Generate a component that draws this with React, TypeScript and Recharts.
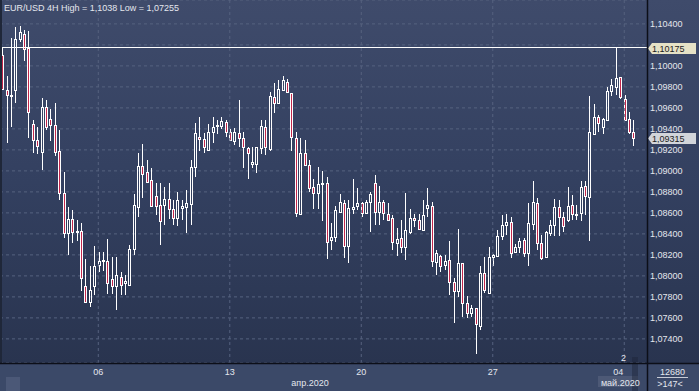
import React from 'react';
import { ComposedChart, Bar, XAxis, YAxis, CartesianGrid, ReferenceLine } from 'recharts';

const title = 'EUR/USD 4H High = 1,1038 Low = 1,07255';

const opens = [
  1.10105, 1.09772, 1.09712, 1.09772, 1.10258, 1.10302, 1.10175, 1.09449, 1.09293, 1.09184,
  1.09607, 1.09496, 1.09440, 1.09191, 1.08788, 1.08408, 1.08541, 1.08427, 1.08423, 1.07908,
  1.07756, 1.07899, 1.08100, 1.08138, 1.08138, 1.07969, 1.07908, 1.07989, 1.07931, 1.07915,
  1.08256, 1.08655, 1.09048, 1.08991, 1.08915, 1.08756, 1.08677, 1.08677, 1.08731, 1.08636,
  1.08550, 1.08645, 1.08655, 1.08686, 1.09036, 1.09321, 1.09302, 1.09200, 1.09375, 1.09426,
  1.09429, 1.09468, 1.09375, 1.09289, 1.09360, 1.09312, 1.09217, 1.09064, 1.09064, 1.09217,
  1.09422, 1.09207, 1.09702, 1.09645, 1.09772, 1.09851, 1.09740, 1.09312, 1.08591, 1.09169,
  1.09058, 1.08851, 1.08788, 1.08874, 1.08883, 1.08338, 1.08375, 1.08613, 1.08693, 1.08280,
  1.08636, 1.08670, 1.08693, 1.08603, 1.08708, 1.08883, 1.08613, 1.08699, 1.08591, 1.08550,
  1.08313, 1.08360, 1.08275, 1.08414, 1.08550, 1.08535, 1.08440, 1.08645, 1.08667, 1.08128,
  1.08185, 1.08106, 1.08154, 1.07946, 1.07860, 1.08122, 1.07740, 1.07651, 1.07693, 1.07527,
  1.08027, 1.07836, 1.08180, 1.08185, 1.08382, 1.08484, 1.08516, 1.08232, 1.08275, 1.08344,
  1.08217, 1.08496, 1.08693, 1.08313, 1.08180, 1.08408, 1.08487, 1.08655, 1.08560, 1.08535,
  1.08677, 1.08581, 1.08598, 1.08858, 1.08750, 1.09353, 1.09512, 1.09422, 1.09480, 1.09756,
  1.09803, 1.09893, 1.09683, 1.09494, 1.09366,
];

const highs = [
  1.10172, 1.09899, 1.10264, 1.10375, 1.10380, 1.10343, 1.10334, 1.09484, 1.09417, 1.09693,
  1.09677, 1.09588, 1.09648, 1.09391, 1.08994, 1.08655, 1.08629, 1.08535, 1.08503, 1.08160,
  1.08090, 1.08287, 1.08229, 1.08226, 1.08351, 1.08176, 1.08176, 1.08033, 1.08011, 1.08297,
  1.08781, 1.09169, 1.09258, 1.09105, 1.09026, 1.08883, 1.08883, 1.08851, 1.08883, 1.08718,
  1.08800, 1.08724, 1.08820, 1.09105, 1.09456, 1.09512, 1.09360, 1.09449, 1.09512, 1.09487,
  1.09512, 1.09487, 1.09398, 1.09407, 1.09677, 1.09375, 1.09232, 1.09226, 1.09232, 1.09487,
  1.09480, 1.09750, 1.09836, 1.09867, 1.09905, 1.09874, 1.09746, 1.09375, 1.09315, 1.09296,
  1.09105, 1.08921, 1.09036, 1.09003, 1.08940, 1.08503, 1.08667, 1.08781, 1.08718, 1.08718,
  1.08921, 1.08836, 1.08708, 1.08718, 1.08803, 1.08962, 1.08858, 1.08718, 1.08693, 1.08581,
  1.08455, 1.08535, 1.08794, 1.08636, 1.08591, 1.08591, 1.08718, 1.08836, 1.08708, 1.08242,
  1.08201, 1.08201, 1.08328, 1.07979, 1.08446, 1.08122, 1.07810, 1.07724, 1.07698, 1.08090,
  1.08180, 1.08275, 1.08211, 1.08433, 1.08581, 1.08591, 1.08565, 1.08306, 1.08360, 1.08360,
  1.08693, 1.08908, 1.08740, 1.08391, 1.08423, 1.08535, 1.08731, 1.08718, 1.08613, 1.08851,
  1.08772, 1.08677, 1.08899, 1.08899, 1.09715, 1.09639, 1.09534, 1.09503, 1.09798, 1.09874,
  1.10175, 1.09893, 1.09724, 1.09556, 1.09480,
];

const lows = [
  1.09772, 1.09264, 1.09422, 1.09645, 1.10232, 1.10051, 1.09312, 1.09169, 1.09160, 1.09010,
  1.09391, 1.09286, 1.09137, 1.08724, 1.08360, 1.08195, 1.08313, 1.08328, 1.07858, 1.07740,
  1.07708, 1.07819, 1.08039, 1.08042, 1.07826, 1.07826, 1.07677, 1.07819, 1.07819, 1.07905,
  1.08201, 1.08565, 1.08740, 1.08883, 1.08660, 1.08581, 1.08297, 1.08487, 1.08541, 1.08487,
  1.08471, 1.08535, 1.08408, 1.08487, 1.08946, 1.09194, 1.09169, 1.09194, 1.09264, 1.09353,
  1.09398, 1.09321, 1.09280, 1.09248, 1.09226, 1.09026, 1.08921, 1.09026, 1.08984, 1.09162,
  1.09153, 1.09194, 1.09550, 1.09639, 1.09756, 1.09740, 1.09194, 1.08560, 1.08581, 1.09053,
  1.08803, 1.08636, 1.08636, 1.08525, 1.08160, 1.08249, 1.08319, 1.08603, 1.08170, 1.08122,
  1.08591, 1.08629, 1.08560, 1.08598, 1.08414, 1.08487, 1.08487, 1.08535, 1.08519, 1.08249,
  1.08185, 1.08217, 1.08147, 1.08400, 1.08465, 1.08433, 1.08433, 1.08560, 1.08084, 1.08011,
  1.08033, 1.08058, 1.07819, 1.07550, 1.07803, 1.07613, 1.07598, 1.07613, 1.07255, 1.07480,
  1.07841, 1.07829, 1.08097, 1.08180, 1.08338, 1.08391, 1.08170, 1.08217, 1.08217, 1.08180,
  1.08090, 1.08440, 1.08242, 1.08154, 1.08170, 1.08382, 1.08382, 1.08382, 1.08414, 1.08509,
  1.08535, 1.08535, 1.08519, 1.08581, 1.08328, 1.09353, 1.09366, 1.09353, 1.09471, 1.09715,
  1.09724, 1.09683, 1.09480, 1.09353, 1.09239,
];

const closes = [
  1.09781, 1.09718, 1.09718, 1.10258, 1.10321, 1.10162, 1.09565, 1.09296, 1.09241, 1.09607,
  1.09417, 1.09433, 1.09184, 1.08788, 1.08408, 1.08541, 1.08418, 1.08423, 1.07979, 1.07756,
  1.07867, 1.08090, 1.08138, 1.08154, 1.07931, 1.07905, 1.08011, 1.07915, 1.07953, 1.08256,
  1.08677, 1.09048, 1.08972, 1.08896, 1.08667, 1.08667, 1.08519, 1.08731, 1.08636, 1.08550,
  1.08718, 1.08667, 1.08693, 1.09036, 1.09360, 1.09302, 1.09226, 1.09375, 1.09417, 1.09440,
  1.09475, 1.09375, 1.09296, 1.09375, 1.09312, 1.09226, 1.09169, 1.09083, 1.09226, 1.09429,
  1.09226, 1.09715, 1.09651, 1.09779, 1.09867, 1.09750, 1.09321, 1.08603, 1.09169, 1.09058,
  1.08841, 1.08788, 1.08874, 1.08883, 1.08319, 1.08375, 1.08629, 1.08705, 1.08280, 1.08645,
  1.08660, 1.08693, 1.08598, 1.08708, 1.08781, 1.08613, 1.08699, 1.08598, 1.08535, 1.08319,
  1.08351, 1.08275, 1.08433, 1.08550, 1.08528, 1.08446, 1.08581, 1.08677, 1.08138, 1.08217,
  1.08097, 1.08144, 1.07946, 1.07860, 1.08122, 1.07740, 1.07651, 1.07693, 1.07543, 1.08027,
  1.07867, 1.08180, 1.08201, 1.08382, 1.08487, 1.08509, 1.08217, 1.08275, 1.08335, 1.08217,
  1.08503, 1.08699, 1.08313, 1.08170, 1.08414, 1.08487, 1.08655, 1.08560, 1.08471, 1.08667,
  1.08591, 1.08591, 1.08851, 1.08756, 1.09366, 1.09512, 1.09456, 1.09494, 1.09765, 1.09817,
  1.09883, 1.09702, 1.09487, 1.09366, 1.09315,
];

const dayTickIdx = [22, 52, 82, 112, 142];
const dayLabels = ['06', '13', '20', '27', '04'];
const monthTickIdx = [70.3, 141.1];
const monthLabels = ['апр.2020', 'май.2020'];
const yTicks = [1.074, 1.076, 1.078, 1.08, 1.082, 1.084, 1.086, 1.088, 1.09, 1.092, 1.094, 1.096, 1.098, 1.1, 1.102, 1.104];
const hiddenYLabels = [1.102];
const highLevel = 1.10175;
const lastPrice = 1.09315;
const volumeText = '12680';
const barsText = '>147<';
const countText = '2';

const data = opens.map((o, i) => ({ i, open: o, high: highs[i], low: lows[i], close: closes[i] }));

const W = 699;
const H = 391;
const AXIS_W = 52;
const AXIS_H = 28;
const PLOT_W = W - AXIS_W;
const PLOT_H = H - AXIS_H;
const FONT = '"Liberation Sans", Arial, sans-serif';
const TXT = '#e4e7ee';
const GRID = '#56627f';
const RED = '#c2264b';

const fmt = (v: number) => v.toFixed(5).replace('.', ',');

const Candle = (props: any) => {
  let { x, y, width, height, payload } = props;
  if (x == null || y == null || !payload) return null;
  if (height < 0) { y += height; height = -height; }
  const { open, close, high, low } = payload;
  const cx = Math.round(x + width / 2);
  const range = high - low;
  const k = range > 0 ? height / range : 0;
  const yOf = (v: number) => y + (high - v) * k;
  const bull = close >= open;
  const top = Math.round(yOf(Math.max(open, close)));
  let bot = Math.round(yOf(Math.min(open, close)));
  if (bot - top < 1) bot = top + 1;
  const yH = Math.round(y);
  const yL = Math.round(y + height);
  return (
    <g>
      {yH < top && <line x1={cx + 0.5} x2={cx + 0.5} y1={yH} y2={top} stroke="#ffffff" strokeWidth={1} />}
      {yL > bot + 1 && <line x1={cx + 0.5} x2={cx + 0.5} y1={bot + 1} y2={yL} stroke="#ffffff" strokeWidth={1} />}
      <rect x={cx - 0.5} y={top + 0.5} width={2} height={bot - top} fill={bull ? 'none' : RED} stroke="#ffffff" strokeWidth={1} />
    </g>
  );
};

const YTick = (props: any) => {
  const { x, y, payload } = props;
  if (hiddenYLabels.some((h) => Math.abs(h - payload.value) < 1e-9)) return null;
  return (
    <text x={x} y={y} dy="0.35em" textAnchor="start" fontSize={9} fontFamily={FONT} fill={TXT}>
      {fmt(payload.value)}
    </text>
  );
};

const XTick = (props: any) => {
  const { x, payload } = props;
  const v = payload.value;
  const di = dayTickIdx.indexOf(v);
  if (di >= 0) {
    return (
      <text x={x + (di === dayTickIdx.length - 1 ? -6 : 0)} y={375} textAnchor="middle" fontSize={9} fontFamily={FONT} fill={TXT}>
        {dayLabels[di]}
      </text>
    );
  }
  const mi = monthTickIdx.indexOf(v);
  if (mi >= 0) {
    return (
      <text x={x} y={386} textAnchor="middle" fontSize={9} fontFamily={FONT} fill={TXT}>
        {monthLabels[mi]}
      </text>
    );
  }
  return null;
};

const PriceTag = (fill: string, text: string) => (props: any) => {
  const vb = props.viewBox || {};
  const bx = (vb.x || 0) + (vb.width || 0);
  const y = Math.round(vb.y || 0) + 0.5;
  return (
    <g>
      <polygon points={`${bx + 1},${y} ${bx + 5},${y - 5.5} ${bx + 49},${y - 5.5} ${bx + 49},${y + 5.5} ${bx + 5},${y + 5.5}`} fill={fill} />
      <text x={bx + 5} y={y} dy="0.35em" fontSize={9} fontFamily={FONT} fill="#1c1c1c">{text}</text>
    </g>
  );
};

export default function App() {
  return (
    <div style={{ position: 'absolute', left: 0, top: 0, width: W, height: H, overflow: 'hidden', background: '#3b4968' }}>
      <div style={{ position: 'absolute', left: 0, top: 0, width: W, height: PLOT_H, background: 'linear-gradient(to bottom, #3f4b6b 0%, #334060 50%, #29344f 100%)' }} />
      <div style={{ position: 'absolute', left: 598, top: 376, width: 40, height: 11, background: '#4d5976' }} />
      <div style={{ position: 'absolute', left: 632, top: 357, width: 6, height: 34, background: 'rgba(28,36,56,0.45)' }} />
      <div style={{ position: 'absolute', left: 6, top: 377, width: 14, height: 14, background: '#4b5877' }} />
      <div style={{ position: 'absolute', left: 0, top: 0 }}>
        <ComposedChart width={W} height={H} data={data} margin={{ top: 0, right: 0, bottom: 0, left: 0 }}>
          <CartesianGrid vertical={false} stroke={GRID} strokeDasharray="3 3" />
          <XAxis
            dataKey="i"
            type="number"
            domain={[-0.4267, 147.19]}
            allowDataOverflow
            ticks={[...dayTickIdx, ...monthTickIdx]}
            interval={0}
            height={AXIS_H}
            axisLine={false}
            tickLine={false}
            tick={<XTick />}
          />
          <YAxis
            orientation="right"
            width={AXIS_W}
            domain={[1.071703, 1.106274]}
            allowDataOverflow
            ticks={yTicks}
            interval={0}
            axisLine={false}
            tickLine={false}
            tickSize={0}
            tickMargin={3}
            tick={<YTick />}
          />
          {dayTickIdx.map((d) => (
            <ReferenceLine key={d} x={d} stroke={GRID} strokeDasharray="3 3" />
          ))}
          <ReferenceLine y={highLevel} stroke="#ffffff" strokeWidth={1} label={PriceTag('#e6e2c6', fmt(highLevel))} />
          <ReferenceLine y={lastPrice} stroke="none" label={PriceTag('#d2d5da', fmt(lastPrice))} />
          <Bar dataKey={(d: any) => [d.low, d.high]} shape={(p: any) => <Candle {...p} />} barSize={3} isAnimationActive={false} />
        </ComposedChart>
      </div>
      <svg width={W} height={H} style={{ position: 'absolute', left: 0, top: 0, pointerEvents: 'none' }}>
        <rect x={0} y={0} width={2} height={PLOT_H} fill="#1f2739" />
        <line x1={0} x2={W} y1={PLOT_H + 0.5} y2={PLOT_H + 0.5} stroke="#0c0f18" strokeWidth={1.5} />
        <line x1={PLOT_W + 0.5} x2={PLOT_W + 0.5} y1={0} y2={H} stroke="#0c0f18" strokeWidth={1.5} />
        <text x={4} y={11} fontSize={9} fontFamily={FONT} fill={TXT}>{title}</text>
        <text x={623.5} y={361} textAnchor="middle" fontSize={9} fontFamily={FONT} fill={TXT}>{countText}</text>
        <text x={672.5} y={374.5} textAnchor="middle" fontSize={9} fontFamily={FONT} fill={TXT}>{volumeText}</text>
        <line x1={657} x2={688} y1={377.5} y2={377.5} stroke="#c8ccd6" strokeWidth={1} />
        <text x={670} y={387} textAnchor="middle" fontSize={9} fontFamily={FONT} fill={TXT}>{barsText}</text>
      </svg>
    </div>
  );
}
